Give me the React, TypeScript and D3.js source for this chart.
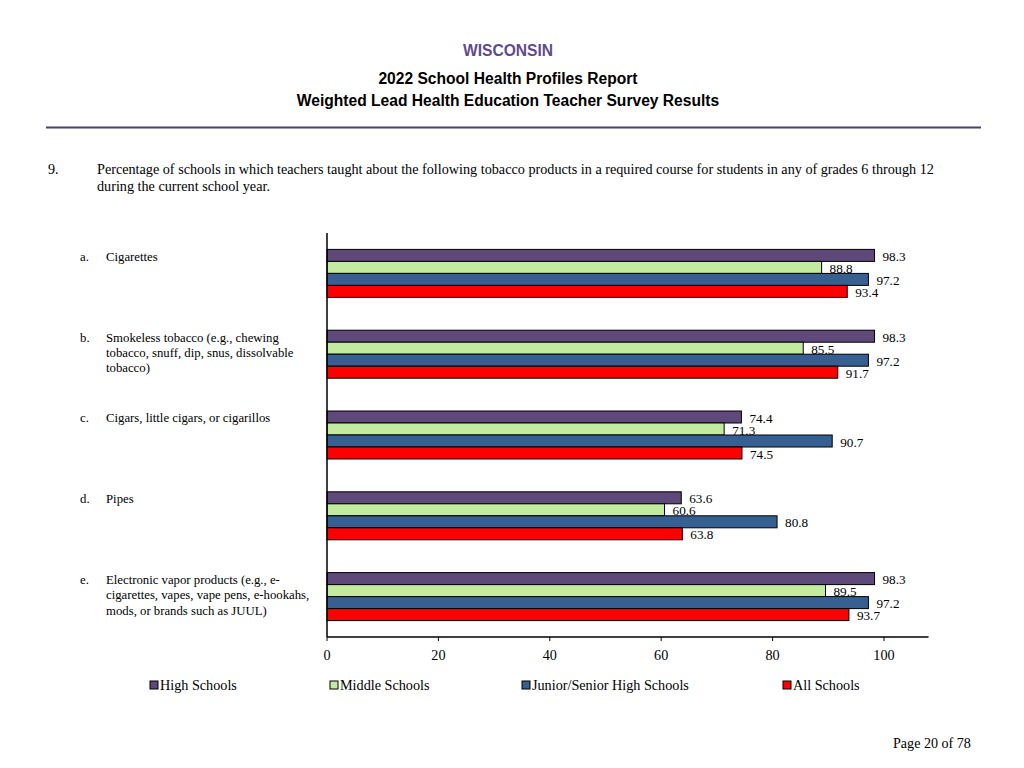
import React from "react";
import * as d3 from "d3";

const categories = ["a", "b", "c", "d", "e"];
const categoryLetters = ["a.", "b.", "c.", "d.", "e."];
const categoryLabels: string[][] = [
  ["Cigarettes"],
  ["Smokeless tobacco (e.g., chewing", "tobacco, snuff, dip, snus, dissolvable", "tobacco)"],
  ["Cigars, little cigars, or cigarillos"],
  ["Pipes"],
  ["Electronic vapor products (e.g., e-", "cigarettes, vapes, vape pens, e-hookahs,", "mods, or brands such as JUUL)"],
];
const seriesNames = ["High Schools", "Middle Schools", "Junior/Senior High Schools", "All Schools"];
const seriesColors = ["#5F497A", "#C3EB9F", "#376092", "#FF0000"];
const highSchools = [98.3, 98.3, 74.4, 63.6, 98.3];
const middleSchools = [88.8, 85.5, 71.3, 60.6, 89.5];
const juniorSenior = [97.2, 97.2, 90.7, 80.8, 97.2];
const allSchools = [93.4, 91.7, 74.5, 63.8, 93.7];
const seriesValues = [highSchools, middleSchools, juniorSenior, allSchools];
const xTicks = [0, 20, 40, 60, 80, 100];

const serif = "'Liberation Serif', 'Times New Roman', serif";
const sans = "'Liberation Sans', Arial, sans-serif";

export default function App() {
  const left = 327;
  const right = 884;
  const top = 233;
  const bottom = 637;
  const x = d3.scaleLinear().domain([0, 100]).range([left, right]);
  const y = d3.scaleBand<string>().domain(categories).range([top, bottom]).paddingInner(0).paddingOuter(0);
  const barH = 12;
  const groupH = barH * 4;
  const axisEnd = x(108);

  const legendX = [150, 330, 522, 783];

  return (
    <svg width={1024} height={768} style={{ position: "absolute", left: 0, top: 0, background: "#fff" }}>
      <text x={508} y={55.5} textAnchor="middle" fontFamily={sans} fontWeight="bold" fontSize={15.6} fill="#5F4B8B">WISCONSIN</text>
      <text x={508} y={84} textAnchor="middle" fontFamily={sans} fontWeight="bold" fontSize={15.6} fill="#000">2022 School Health Profiles Report</text>
      <text x={508} y={105.5} textAnchor="middle" fontFamily={sans} fontWeight="bold" fontSize={15.6} fill="#000">Weighted Lead Health Education Teacher Survey Results</text>
      <line x1={46} x2={981} y1={127.5} y2={127.5} stroke="#4B4170" strokeWidth={2} />

      <text x={48} y={173.5} fontFamily={serif} fontSize={14.2} fill="#000">9.</text>
      <text x={97} y={173.5} fontFamily={serif} fontSize={14.2} fill="#000">Percentage of schools in which teachers taught about the following tobacco products in a required course for students in any of grades 6 through 12</text>
      <text x={97} y={190.5} fontFamily={serif} fontSize={14.2} fill="#000">during the current school year.</text>

      {categories.map((c, i) => {
        const g0 = (y(c) as number) + (y.bandwidth() - groupH) / 2;
        const firstY = g0 + barH / 2 + 1;
        return (
          <g key={c}>
            <text x={80} y={firstY} dy="0.35em" fontFamily={serif} fontSize={12.75} fill="#000">{categoryLetters[i]}</text>
            {categoryLabels[i].map((line, k) => (
              <text key={k} x={106} y={firstY + k * 15.3} dy="0.35em" fontFamily={serif} fontSize={12.75} fill="#000">{line}</text>
            ))}
            {seriesValues.map((vals, s) => {
              const by = g0 + s * barH;
              return (
                <g key={s}>
                  <rect x={x(0)} y={by} width={x(vals[i]) - x(0)} height={barH} fill={seriesColors[s]} stroke="#000" strokeWidth={1} />
                  <text x={x(vals[i]) + 8} y={by + barH / 2 + 1} dy="0.35em" fontFamily={serif} fontSize={13.2} fill="#000">{vals[i].toFixed(1)}</text>
                </g>
              );
            })}
          </g>
        );
      })}

      <line x1={left} x2={left} y1={top} y2={bottom} stroke="#000" strokeWidth={1.5} />
      <line x1={left} x2={axisEnd} y1={bottom} y2={bottom} stroke="#000" strokeWidth={1.5} />
      {xTicks.map((t) => (
        <g key={t}>
          <line x1={x(t)} x2={x(t)} y1={bottom} y2={bottom + 4} stroke="#000" strokeWidth={1} />
          <text x={x(t)} y={655} dy="0.35em" textAnchor="middle" fontFamily={serif} fontSize={14.2} fill="#000">{t}</text>
        </g>
      ))}

      {seriesNames.map((n, s) => (
        <g key={n}>
          <rect x={legendX[s]} y={681} width={8} height={8} fill={seriesColors[s]} stroke="#000" strokeWidth={1} />
          <text x={legendX[s] + 10} y={685.5} dy="0.35em" fontFamily={serif} fontSize={14.2} fill="#000">{n}</text>
        </g>
      ))}

      <text x={893} y={747.5} fontFamily={serif} fontSize={14.1} fill="#000">Page 20 of 78</text>
    </svg>
  );
}
